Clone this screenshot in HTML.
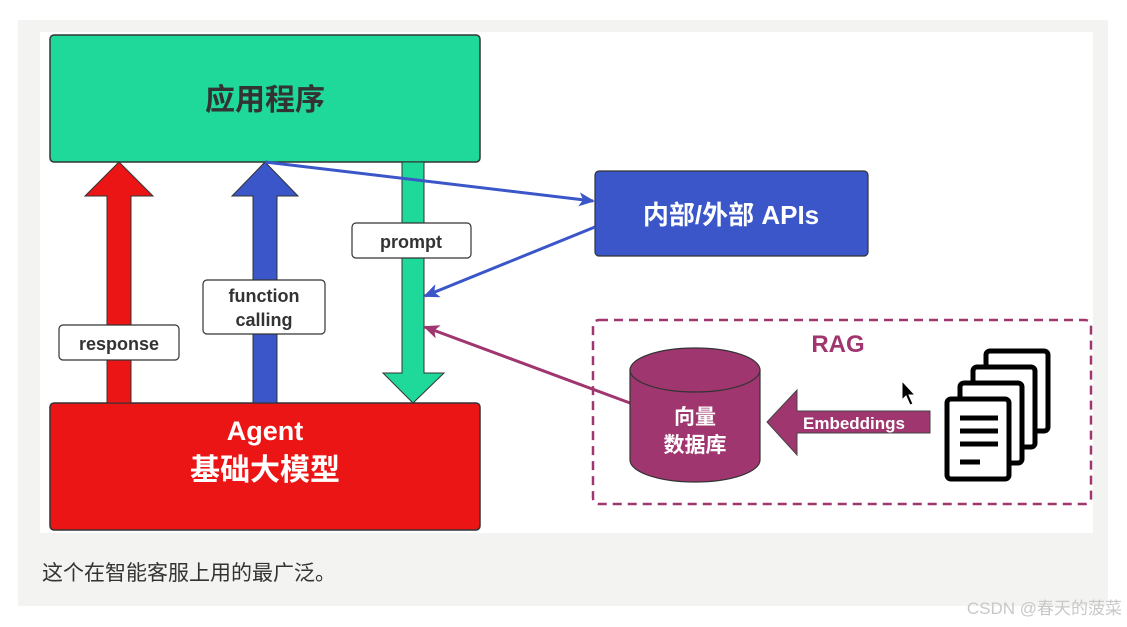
<!DOCTYPE html>
<html><head><meta charset="utf-8"><style>
html,body{margin:0;padding:0;background:#fff;width:1127px;height:627px;overflow:hidden}
svg{position:absolute;left:0;top:0}
</style></head><body>
<svg width="1127" height="627" viewBox="0 0 1127 627" xmlns="http://www.w3.org/2000/svg" font-family="Liberation Sans, Noto Sans CJK SC, sans-serif">
<defs>
<marker id="ab" markerWidth="16" markerHeight="14" refX="14" refY="7" orient="auto" markerUnits="userSpaceOnUse"><path d="M0,0 L16,7 L0,14 L4,7 Z" fill="#3a56c8"/></marker>
<marker id="am" markerWidth="16" markerHeight="14" refX="14" refY="7" orient="auto" markerUnits="userSpaceOnUse"><path d="M0,0 L16,7 L0,14 L4,7 Z" fill="#a0366f"/></marker>
</defs>
<rect x="18" y="20" width="1090" height="586" fill="#f3f3f1"/>
<rect x="40" y="32" width="1053" height="501" fill="#fff"/>
<rect x="50" y="35" width="430" height="127" rx="4" fill="#1ed99a" stroke="#333" stroke-width="1.5"/>
<text x="265" y="110" font-size="30" font-weight="bold" fill="#333" text-anchor="middle">应用程序</text>
<rect x="50" y="403" width="430" height="127" rx="4" fill="#ec1515" stroke="#333" stroke-width="1.5"/>
<text x="265" y="440" font-size="27" font-weight="bold" fill="#fff" text-anchor="middle">Agent</text>
<text x="265" y="480" font-size="30" font-weight="bold" fill="#fff" text-anchor="middle">基础大模型</text>
<path d="M107,403 L107,196 L85,196 L119,162 L153,196 L131,196 L131,403 Z" fill="#ec1515" stroke="#333" stroke-width="1"/>
<path d="M253,403 L253,196 L232,196 L265,162 L298,196 L277,196 L277,403 Z" fill="#3a56c8" stroke="#333" stroke-width="1"/>
<path d="M402,162 L402,373 L383,373 L413,403 L444,373 L424,373 L424,162 Z" fill="#1ed99a" stroke="#333" stroke-width="1"/>
<rect x="352" y="223" width="119" height="35" rx="4" fill="#fff" stroke="#333" stroke-width="1.2"/>
<text x="411" y="248" font-size="18" font-weight="bold" fill="#333" text-anchor="middle">prompt</text>
<rect x="203" y="280" width="122" height="54" rx="4" fill="#fff" stroke="#333" stroke-width="1.2"/>
<text x="264" y="302" font-size="18" font-weight="bold" fill="#333" text-anchor="middle">function</text>
<text x="264" y="326" font-size="18" font-weight="bold" fill="#333" text-anchor="middle">calling</text>
<rect x="59" y="325" width="120" height="35" rx="4" fill="#fff" stroke="#333" stroke-width="1.2"/>
<text x="119" y="350" font-size="18" font-weight="bold" fill="#333" text-anchor="middle">response</text>
<rect x="595" y="171" width="273" height="85" rx="4" fill="#3a56c8" stroke="#333" stroke-width="1.2"/>
<text x="731" y="224" font-size="26" font-weight="bold" fill="#fff" text-anchor="middle">内部/外部 APIs</text>
<line x1="265" y1="162" x2="593" y2="201" stroke="#3a56c8" stroke-width="3" marker-end="url(#ab)"/>
<line x1="595" y1="227" x2="425" y2="296" stroke="#3a56c8" stroke-width="3" marker-end="url(#ab)"/>
<line x1="630" y1="403" x2="425" y2="327" stroke="#a0366f" stroke-width="3" marker-end="url(#am)"/>
<rect x="593" y="320" width="498" height="184" rx="6" fill="none" stroke="#a0366f" stroke-width="2.5" stroke-dasharray="9,6"/>
<text x="838" y="352" font-size="24" font-weight="bold" fill="#a0366f" text-anchor="middle">RAG</text>
<path d="M630,370 L630,460 A65,22 0 0 0 760,460 L760,370 Z" fill="#a0366f" stroke="#333" stroke-width="1.2"/>
<ellipse cx="695" cy="370" rx="65" ry="22" fill="#a0366f" stroke="#333" stroke-width="1.2"/>
<text x="695" y="424" font-size="21" font-weight="bold" fill="#fff" text-anchor="middle">向量</text>
<text x="695" y="452" font-size="21" font-weight="bold" fill="#fff" text-anchor="middle">数据库</text>
<path d="M767,422 L797,390 L797,411 L930,411 L930,433 L797,433 L797,455 Z" fill="#a0366f" stroke="#444" stroke-width="1"/>
<text x="803" y="429" font-size="17" font-weight="bold" fill="#fff">Embeddings</text>
<g fill="#fff" stroke="#000" stroke-width="5">
<rect x="986" y="351" width="62" height="80" rx="4"/>
<rect x="973" y="367" width="62" height="80" rx="4"/>
<rect x="960" y="383" width="62" height="80" rx="4"/>
<rect x="947" y="399" width="62" height="80" rx="4"/>
</g>
<g stroke="#000" stroke-width="5">
<line x1="960" y1="418" x2="998" y2="418"/>
<line x1="960" y1="431" x2="998" y2="431"/>
<line x1="960" y1="444" x2="998" y2="444"/>
<line x1="960" y1="462" x2="980" y2="462"/>
</g>
<path d="M902,381 L902,400 L906,396 L910,405 L913,404 L909,395 L915,395 Z" fill="#000" stroke="#fff" stroke-width="1"/>
<text x="42" y="580" font-size="21" fill="#333">这个在智能客服上用的最广泛。</text>
<text x="1122" y="614" font-size="17" fill="#c8c8c8" text-anchor="end">CSDN @春天的菠菜</text>
</svg>
</body></html>
